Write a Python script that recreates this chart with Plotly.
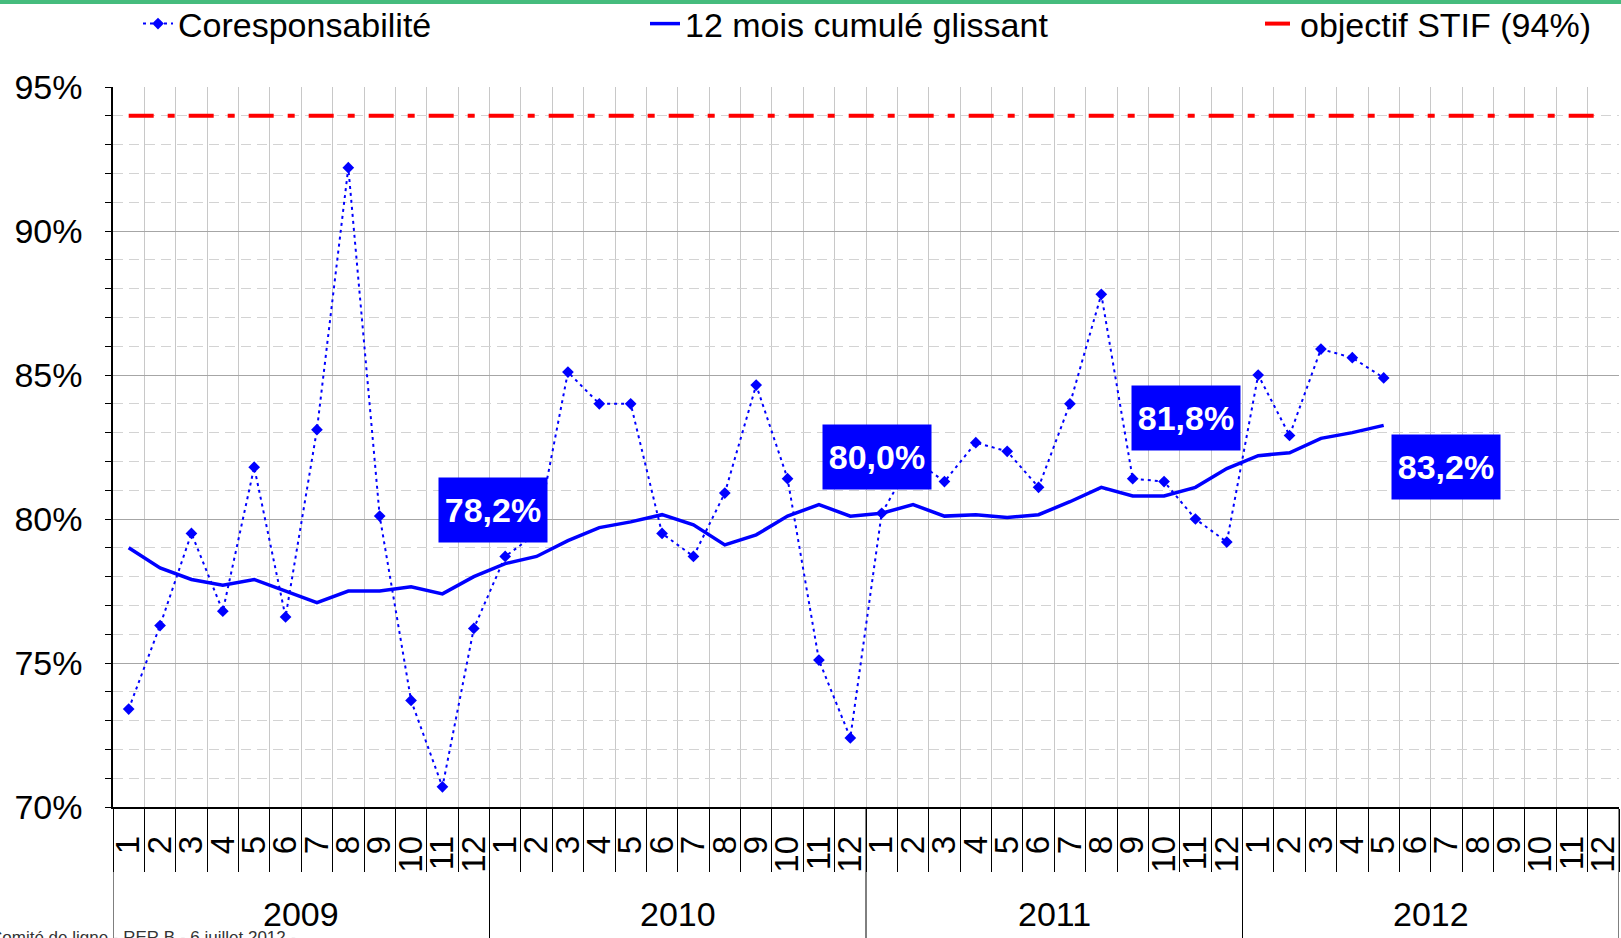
import plotly.graph_objects as go

# ---------------- data ----------------
years = [2009, 2010, 2011, 2012]
month_labels = [str(m) for m in range(1, 13)]

# Coresponsabilité (monthly), Jan 2009 -> May 2012
coresp = [
    73.4, 76.3, 79.5, 76.8, 81.8, 76.6, 83.1, 92.2, 80.1, 73.7, 70.7, 76.2,   # 2009
    78.7, 79.5, 85.1, 84.0, 84.0, 79.5, 78.7, 80.9, 84.65, 81.4, 75.1, 72.4,  # 2010
    80.2, 82.1, 81.3, 82.65, 82.35, 81.1, 84.0, 87.8, 81.4, 81.3, 80.0, 79.2, # 2011
    85.0, 82.9, 85.9, 85.6, 84.9,                                             # 2012
]
# 12 mois cumulé glissant
cumul = [
    79.0, 78.3, 77.9, 77.7, 77.9, 77.5, 77.1, 77.5, 77.5, 77.65, 77.4, 78.0,
    78.45, 78.7, 79.25, 79.7, 79.9, 80.15, 79.8, 79.1, 79.45, 80.1, 80.5, 80.1,
    80.2, 80.5, 80.1, 80.15, 80.05, 80.15, 80.6, 81.1, 80.8, 80.8, 81.1, 81.75,
    82.2, 82.3, 82.8, 83.0, 83.25,
]
objectif = 94.0

label_texts = ["78,2%", "80,0%", "81,8%", "83,2%"]

# ---------------- layout helpers ----------------
label_pos = [(11.6, 80.3), (23.85, 82.14), (33.71, 83.51), (41.97, 81.81)]
FONT = "Liberation Sans, Arial, sans-serif"
W, H = 1621, 938
ML, MR, MT, MB = 113, 2, 87, 131
PH = H - MT - MB
PW = W - ML - MR

n = len(years) * 12
x_all = list(range(n))
tick_text = month_labels * len(years)

BLUE = "#0000FF"
RED = "#FF0000"

fig = go.Figure()
fig.add_trace(go.Scatter(
    x=x_all[:len(coresp)], y=coresp, mode="lines+markers",
    name="Coresponsabilité", legend="legend", showlegend=True,
    line=dict(color=BLUE, width=2, dash="3px,4px"),
    marker=dict(symbol="diamond", size=9, color=BLUE),
))
fig.add_trace(go.Scatter(
    x=x_all[:len(cumul)], y=cumul, mode="lines",
    name="12 mois cumulé glissant", legend="legend2", showlegend=True,
    line=dict(color=BLUE, width=3.5),
))
fig.add_trace(go.Scatter(
    x=x_all, y=[objectif] * n, mode="lines",
    name="objectif STIF (94%)", legend="legend3", showlegend=True,
    line=dict(color=RED, width=4, dash="25px,14px,7px,14px"),
))

def px_x(p):
    return (p - ML) / PW

def px_y(p):
    return 1 + (MT - p) / PH

leg_common = dict(orientation="h", yanchor="middle", xanchor="left",
                  bgcolor="rgba(0,0,0,0)", font=dict(size=34, family=FONT, color="black"))

shapes = []
# green top bar
shapes.append(dict(type="rect", xref="paper", yref="paper",
                   x0=px_x(-5), x1=px_x(W + 5), y0=px_y(4), y1=px_y(-5),
                   fillcolor="#45BC7D", line=dict(width=0), layer="above"))
# year separators below axis
for k in range(len(years) + 1):
    shapes.append(dict(type="line", xref="x", yref="paper",
                       x0=k * 12 - 0.5, x1=k * 12 - 0.5, y0=0, y1=px_y(H + 5),
                       line=dict(color="black", width=1)))

annotations = []
for k, yr in enumerate(years):
    annotations.append(dict(x=k * 12 + 5.5, xref="x", y=px_y(914), yref="paper",
                            text=str(yr), showarrow=False, yanchor="middle",
                            font=dict(size=34, family=FONT, color="black")))
for txt, (lx, ly) in zip(label_texts, label_pos):
    annotations.append(dict(x=lx, y=ly, xref="x", yref="y", text="<b>" + txt + "</b>",
                            showarrow=False, bgcolor=BLUE, borderpad=1,
                            width=106, height=62,
                            font=dict(size=34, family=FONT, color="white")))
annotations.append(dict(x=px_x(298), y=px_y(926), xref="paper", yref="paper",
                        xanchor="right", yanchor="top", showarrow=False,
                        text="Comité de ligne - RER B - 6 juillet 2012 -",
                        font=dict(size=17, family=FONT, color="#333333")))

fig.update_layout(
    width=W, height=H, showlegend=True,
    margin=dict(l=ML, r=MR, t=MT, b=MB, autoexpand=False),
    paper_bgcolor="white", plot_bgcolor="white",
    font=dict(family=FONT, color="black"),
    legend=dict(x=px_x(138), y=px_y(24), **leg_common),
    legend2=dict(x=px_x(645), y=px_y(24), **leg_common),
    legend3=dict(x=px_x(1260), y=px_y(24), **leg_common),
    shapes=shapes,
    annotations=annotations,
    xaxis=dict(
        range=[-0.5, n - 0.5], tickmode="array", tickvals=x_all, ticktext=tick_text,
        tickangle=-90, ticks="", showgrid=False, zeroline=False,
        showline=True, linecolor="black", linewidth=1.5,
        tickfont=dict(size=33, family=FONT, color="black"),
        ticklabelstandoff=14, automargin=False, ticklabeloverflow="allow",
        minor=dict(tickmode="linear", tick0=-0.5, dtick=1, ticks="outside", ticklen=63,
                   tickcolor="black", tickwidth=1, showgrid=True,
                   gridcolor="#C8C8C8", gridwidth=1.2),
    ),
    yaxis=dict(
        range=[70, 95], tickmode="linear", tick0=70, dtick=5, ticksuffix="%",
        ticks="outside", ticklen=6, tickcolor="black", tickwidth=1,
        showgrid=True, gridcolor="#A6A6A6", gridwidth=1.3, zeroline=False,
        showline=True, linecolor="black", linewidth=1.5,
        tickfont=dict(size=34, family=FONT, color="black"),
        ticklabelstandoff=16, automargin=False,
        minor=dict(dtick=1, ticks="outside", ticklen=6, tickcolor="black",
                   showgrid=True, gridcolor="#D3D3D3", griddash="10px,6px", gridwidth=1.2),
    ),
)

fig.write_html(
    "out.html",
    config={"displayModeBar": False},
    post_script="document.body.style.margin='0';document.body.style.overflow='hidden';",
)
